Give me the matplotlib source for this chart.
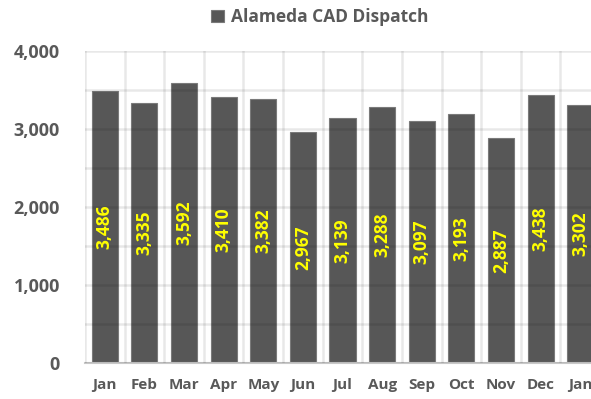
import matplotlib.pyplot as plt
from matplotlib.patches import Patch
from matplotlib.ticker import FixedLocator, MultipleLocator, StrMethodFormatter

months = ["Jan", "Feb", "Mar", "Apr", "May", "Jun", "Jul",
          "Aug", "Sep", "Oct", "Nov", "Dec", "Jan"]
dispatches = [3486, 3335, 3592, 3410, 3382, 2967, 3139,
              3288, 3097, 3193, 2887, 3438, 3302]

plt.rcParams['font.family'] = ['Open Sans', 'DejaVu Sans']
text_grey = '#595959'
bar_grey = '#575757'

fig = plt.figure(figsize=(5.91, 3.99), dpi=100)
# axes runs past the right edge so the last bar is clipped
ax = fig.add_axes([85 / 591, 36 / 399, 515 / 591, 312 / 399])

x = list(range(len(months)))
bars = ax.bar(x, dispatches, width=0.66, color=bar_grey,
              edgecolor='#7a7a7a', linewidth=0.8)

# value labels, rotated, in the middle of each bar
for xi, v in zip(x, dispatches):
    ax.text(xi, v / 2, f"{v:,}", rotation=90, ha='center', va='center',
            color='#ffff00', fontsize=12.5, fontweight='bold', zorder=4)

ax.set_xlim(-0.5, len(months) - 0.5)
ax.set_ylim(0, 4000)
ax.set_xticks(x)
ax.set_xticklabels(months)
ax.xaxis.set_minor_locator(FixedLocator([i - 0.5 for i in range(len(months) + 1)]))
ax.yaxis.set_major_locator(MultipleLocator(1000))
ax.yaxis.set_minor_locator(MultipleLocator(500))
ax.yaxis.set_major_formatter(StrMethodFormatter("{x:,.0f}"))

ax.set_axisbelow(False)
ax.grid(True, which='both', axis='y', color='black', alpha=0.09, linewidth=1.8)
ax.grid(True, which='minor', axis='x', color='black', alpha=0.09, linewidth=1.8)

ax.tick_params(which='both', length=0)
ax.tick_params(axis='y', pad=18, labelsize=13, labelcolor=text_grey)
ax.tick_params(axis='x', pad=11, labelsize=11, labelcolor=text_grey)
for lbl in ax.get_xticklabels() + ax.get_yticklabels():
    lbl.set_fontweight('bold')

for side in ['top', 'right', 'left']:
    ax.spines[side].set_visible(False)
ax.spines['bottom'].set_color('#c8c8c8')
ax.spines['bottom'].set_linewidth(1.5)

handle = Patch(facecolor=bar_grey, edgecolor='#7a7a7a', linewidth=0.8)
fig.legend([handle], ["Alameda CAD Dispatch"], loc='center',
           bbox_to_anchor=(320 / 591, 1 - 17 / 399), frameon=False,
           handlelength=0.75, handleheight=0.75, handletextpad=0.4,
           prop={'weight': 'bold', 'size': 12.5}, labelcolor=text_grey)

fig.savefig("out.png", dpi=100)
